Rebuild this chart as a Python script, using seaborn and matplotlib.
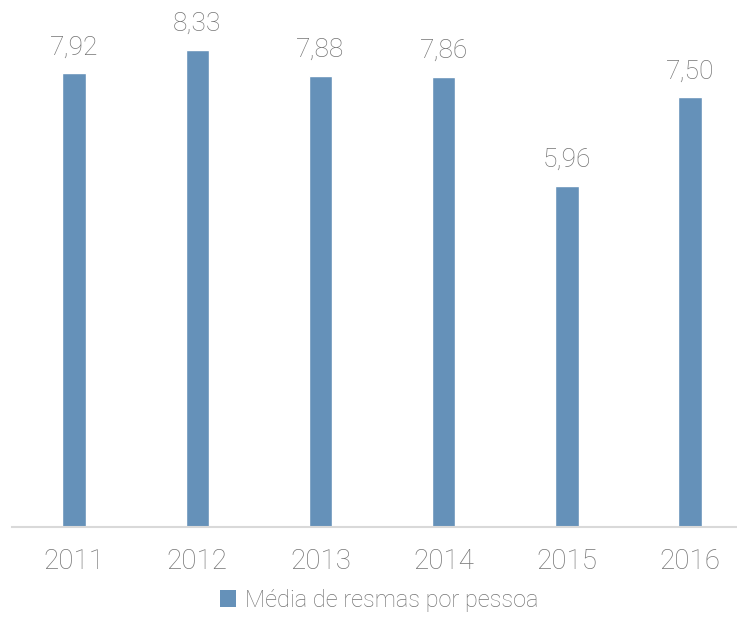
import matplotlib
matplotlib.use("Agg")
import matplotlib.pyplot as plt
import seaborn as sns
import pandas as pd
from matplotlib.patches import Patch

years = ["2011", "2012", "2013", "2014", "2015", "2016"]
values = [7.92, 8.33, 7.88, 7.86, 5.96, 7.50]
series_name = "Média de resmas por pessoa"

df = pd.DataFrame({"ano": years, "valor": values, "serie": series_name})

sns.set_theme(style="white")
plt.rcParams['font.family'] = ['Roboto', 'DejaVu Sans']
plt.rcParams['font.weight'] = 'light'

bar_color = "#6591B9"
text_color = "#747474"

fig = plt.figure(figsize=(7.37, 6.17), dpi=100)
ax = fig.add_axes([12.4 / 737, 90 / 617, 1 - 12.4 / 737, 527 / 617])

sns.barplot(data=df, x="ano", y="valor", color=bar_color, saturation=1,
            width=0.19, ax=ax, legend=False)

ax.set_xlim(-0.5, 5.38)
ax.set_ylim(0, 9.2)
ax.set_xlabel("")
ax.set_ylabel("")
ax.set_yticks([])
for s in ["top", "right", "left"]:
    ax.spines[s].set_visible(False)
ax.spines["bottom"].set_color("#d9d9d9")
ax.spines["bottom"].set_linewidth(1.5)
ax.tick_params(axis="x", length=0, pad=15, labelsize=20, labelcolor=text_color)

for c in ax.containers:
    ax.bar_label(c, labels=[f"{v:.2f}".replace(".", ",") for v in values],
                 padding=10, fontsize=19, color=text_color)

handles = [Patch(facecolor=bar_color, edgecolor="none", label=series_name)]
fig.legend(handles=handles, loc="center", bbox_to_anchor=(0.514, 0.027),
           frameon=False, fontsize=17, labelcolor=text_color,
           handlelength=0.7, handleheight=0.7, handletextpad=0.35)

fig.savefig("out.png", dpi=100)
